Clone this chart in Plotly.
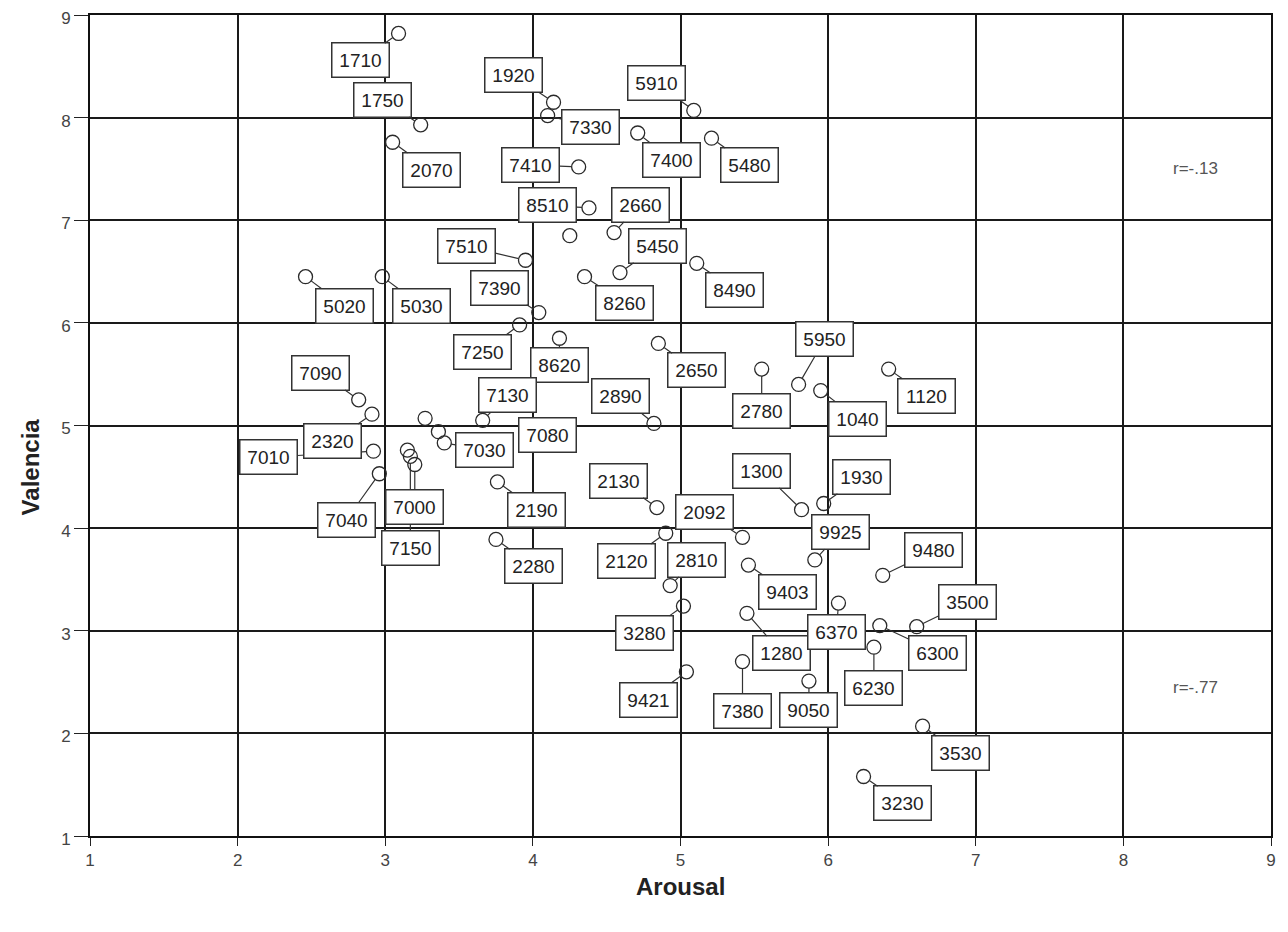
import plotly.graph_objects as go

# ---- data ----
ids = ["1710", "1750", "2070", "1920", "7330", "5910", "7400", "5480", "7410", "8510",
       "2660", "", "5450", "8490", "8260", "7510", "5020", "5030", "7390", "7250",
       "8620", "7090", "7010", "2320", "7040", "", "7150", "7000", "7080", "",
       "7030", "7130", "2190", "2280", "2130", "2890", "2650", "2780", "5950", "1040",
       "1120", "1930", "1300", "9925", "2092", "2120", "2810", "3280", "9421", "9403",
       "1280", "6370", "9480", "3500", "6300", "6230", "7380", "9050", "3530", "3230"]
arousal = [3.09, 3.24, 3.05, 4.14, 4.10, 5.09, 4.71, 5.21, 4.31, 4.38,
           4.55, 4.25, 4.59, 5.11, 4.35, 3.95, 2.46, 2.98, 4.04, 3.91,
           4.18, 2.82, 2.92, 2.91, 2.96, 3.15, 3.17, 3.20, 3.27, 3.36,
           3.40, 3.66, 3.76, 3.75, 4.84, 4.82, 4.85, 5.55, 5.80, 5.95,
           6.41, 5.97, 5.82, 5.91, 5.42, 4.90, 4.93, 5.02, 5.04, 5.46,
           5.45, 6.07, 6.37, 6.60, 6.35, 6.31, 5.42, 5.87, 6.64, 6.24]
valencia = [8.82, 7.93, 7.76, 8.15, 8.02, 8.07, 7.85, 7.80, 7.52, 7.12,
            6.88, 6.85, 6.49, 6.58, 6.45, 6.61, 6.45, 6.45, 6.10, 5.98,
            5.85, 5.25, 4.75, 5.11, 4.53, 4.76, 4.70, 4.62, 5.07, 4.94,
            4.83, 5.05, 4.45, 3.89, 4.20, 5.02, 5.80, 5.55, 5.40, 5.34,
            5.55, 4.24, 4.18, 3.69, 3.91, 3.95, 3.44, 3.24, 2.60, 3.64,
            3.17, 3.27, 3.54, 3.04, 3.05, 2.84, 2.70, 2.51, 2.07, 1.58]
correlations = ["r=-.13", "r=-.77"]
corr_y = [7.5, 2.45]
x_ticks = list(range(1, 10))
y_ticks = list(range(1, 10))

# ---- label placement (pixel offsets of label box from its point) ----
label_offsets = [(-38, 27), (-38, -25), (39, 28), (-40, -27), (43, 11), (-37, -27), (34, 27), (38, 27), (-48, -2), (-41, -3),
                 (26, -28), None, (38, -27), (38, 27), (40, 26), (-59, -14), (39, 29), (39, 29), (-39, -25), (-37, 27),
                 (0, 27), (-38, -27), (-105, 6), (-39, 27), (-33, 46), None, (0, 92), (0, 42), (122, 17), None,
                 (40, 7), (25, -25), (39, 28), (38, 27), (-38, -27), (-33, -27), (38, 27), (0, 42), (26, -45), (37, 28),
                 (38, 27), (38, -27), (-40, -39), (26, -28), (-38, -25), (-39, 28), (26, -26), (-39, 27), (-38, 28), (39, 27),
                 (35, 40), (-2, 29), (51, -25), (51, -25), (58, 27), (0, 41), (0, 49), (0, 29), (38, 27), (39, 27)]
hidden_connector = {"7080"}

FONT = "Liberation Sans, Arial, sans-serif"

fig = go.Figure()
fig.add_trace(go.Scatter(
    x=arousal, y=valencia, mode="markers",
    marker=dict(symbol="circle-open", size=14, color="#2a2a2a", line=dict(width=1.3)),
    hoverinfo="skip", showlegend=False))

annotations = []
for lab, xv, yv, off in zip(ids, arousal, valencia, label_offsets):
    if not lab or off is None:
        continue
    annotations.append(dict(
        x=xv, y=yv, xref="x", yref="y", ax=off[0], ay=off[1],
        text=lab, showarrow=True, arrowhead=0, arrowwidth=1.2,
        arrowcolor="rgba(0,0,0,0)" if lab in hidden_connector else "#333",
        standoff=7, startstandoff=0,
        font=dict(family=FONT, size=19, color="#222"),
        bgcolor="white", bordercolor="#333", borderwidth=1.5, borderpad=5,
        width=46, height=23, align="center", valign="middle"))

for txt, yv in zip(correlations, corr_y):
    annotations.append(dict(x=8.49, y=yv, xref="x", yref="y", text=txt, showarrow=False,
                            font=dict(family=FONT, size=17, color="#555")))

annotations.append(dict(x=0.5, y=-0.061, xref="paper", yref="paper", text="<b>Arousal</b>",
                        showarrow=False, yanchor="middle",
                        font=dict(family=FONT, size=24, color="#222")))
annotations.append(dict(x=-0.0508, y=0.449, xref="paper", yref="paper", text="<b>Valencia</b>",
                        showarrow=False, textangle=-90, xanchor="center", yanchor="middle",
                        font=dict(family=FONT, size=24, color="#222")))

axis_common = dict(showgrid=True, gridcolor="#1a1a1a", gridwidth=1.5, automargin=False,
                   zeroline=False, showline=True, linecolor="#111", linewidth=2, mirror=True,
                   ticks="outside", tickwidth=1.2, tickcolor="#222", ticklabeloverflow="allow",
                   tickfont=dict(family=FONT, size=17, color="#444"))

# the page body adds an 8px offset; margins compensate so the plot area sits at 90..1271 x 15..836
fig.update_layout(
    width=1280, height=924,
    margin=dict(l=82, r=17, t=7, b=96),
    paper_bgcolor="white", plot_bgcolor="white",
    xaxis=dict(range=[1, 9], tickvals=x_ticks, ticklen=8, **axis_common),
    yaxis=dict(range=[1, 9], tickvals=y_ticks, ticklen=14, ticklabelshift=3, **axis_common),
    annotations=annotations,
)

fig.write_html("out.html")
